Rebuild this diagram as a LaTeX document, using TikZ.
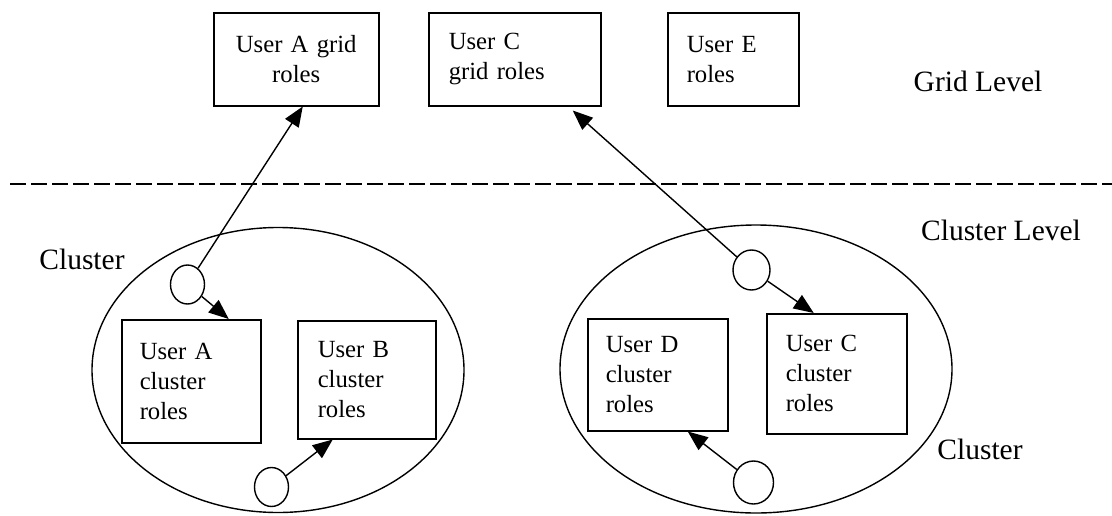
\documentclass[tikz,border=0pt]{standalone}
\usepackage{fontspec}
\setmainfont{Liberation Serif}
\usetikzlibrary{shapes.geometric,arrows.meta}
\begin{document}
\begin{tikzpicture}[x=1pt,y=-1pt,
  every node/.style={font=\fontsize{24.7}{30}\selectfont},
  rolebox/.style={draw,line width=1.5pt,rectangle,anchor=north west,inner ysep=0pt,align=left},
  bigtext/.style={font=\fontsize{29.5}{34}\selectfont,inner sep=0pt,anchor=base},
  cluster/.style={draw,ellipse,line width=1.4pt,inner sep=0pt},
  port/.style={draw,ellipse,line width=1.4pt,inner sep=0pt,minimum width=34pt,minimum height=39pt},
  arr/.style={line width=1.4pt,-{Triangle[length=20pt,width=16pt]}}
]
\useasboundingbox (0,0) rectangle (1112,515);

% level separator
\coordinate (sepL) at (10,184);
\coordinate (sepR) at (1112,184);
\draw[line width=1.4pt,dash pattern=on 16pt off 5pt] (sepL) -- (sepR);

% grid level boxes
\node[rolebox,align=center,text width=135pt,inner xsep=15pt,minimum height=93pt] (gridA) at (213,12) {User A grid\\roles};
\node[rolebox,text width=132pt,inner xsep=20pt,minimum height=93pt] (gridC) at (428,12) {User C\\grid roles};
\node[rolebox,text width=93pt,inner xsep=19pt,minimum height=93pt] (gridE) at (667,12) {User E\\roles};

\node[bigtext] (gridlevel) at (978,91) {Grid Level};
\node[bigtext] (clusterlevel) at (1001,240) {Cluster Level};

% clusters
\node[cluster,minimum width=372pt,minimum height=285pt] (cl1) at (278,370) {};
\node[cluster,minimum width=392pt,minimum height=288pt] (cl2) at (756,369) {};
\node[bigtext] (cl1lab) at (82,269) {Cluster};
\node[bigtext] (cl2lab) at (980,459) {Cluster};

% cluster boxes
\node[rolebox,text width=103pt,inner xsep=18pt,minimum height=123pt] (clA) at (121,319) {User A\\cluster\\roles};
\node[rolebox,text width=98pt,inner xsep=20pt,minimum height=118pt] (clB) at (297,320) {User B\\cluster\\roles};
\node[rolebox,text width=104pt,inner xsep=18pt,minimum height=112pt] (clD) at (587,318) {User D\\cluster\\roles};
\node[rolebox,text width=102pt,inner xsep=19pt,minimum height=120pt] (clC) at (766,313) {User C\\cluster\\roles};

% ports
\node[port] (p1) at (187.5,284.5) {};
\node[port] (p2) at (271.5,487) {};
\node[port,minimum width=37pt,minimum height=40pt] (p3) at (751.5,270) {};
\node[port,minimum width=40pt,minimum height=43pt] (p4) at (753.5,482.5) {};

% arrows
\draw[arr] (p1) -- ([xshift=6.5pt]gridA.south);
\draw[arr] (p1) -- ([xshift=37.5pt]clA.north);
\draw[arr] (p2) -- ([xshift=-34pt]clB.south);
\draw[arr] (p3) -- ([xshift=58pt,yshift=-4pt]gridC.south);
\draw[arr] (p3) -- ([xshift=-23pt]clC.north);
\draw[arr] (p4) -- ([xshift=30pt]clD.south);
\end{tikzpicture}
\end{document}
